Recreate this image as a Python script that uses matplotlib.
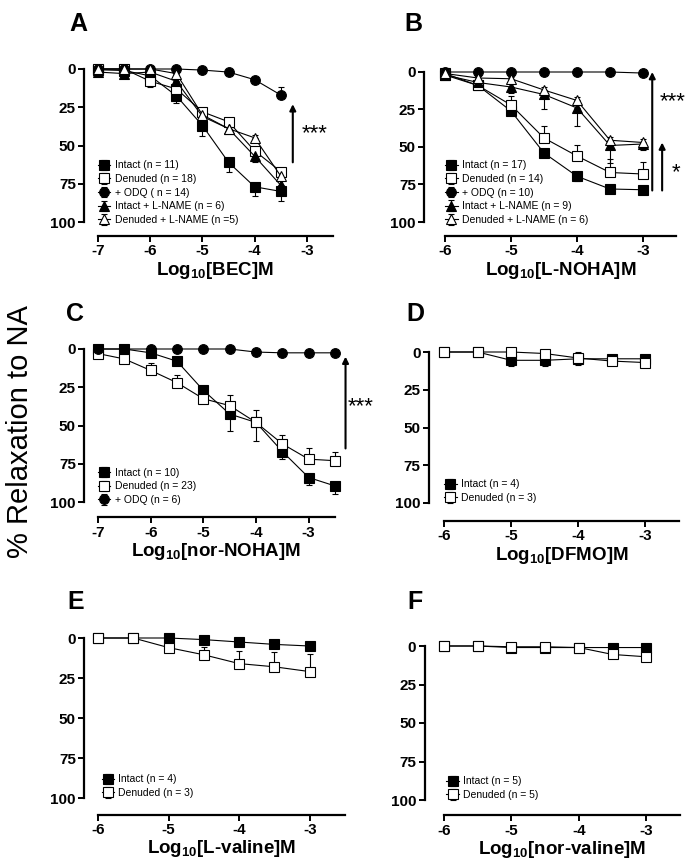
import matplotlib

matplotlib.use("Agg")
import matplotlib.pyplot as plt  # noqa: E402

plt.rcParams["font.family"] = ["Liberation Sans", "DejaVu Sans"]
plt.rcParams["mathtext.fontset"] = "custom"
plt.rcParams["mathtext.bf"] = "Liberation Sans:bold"
plt.rcParams["mathtext.rm"] = "Liberation Sans:bold"
plt.rcParams["mathtext.default"] = "bf"

# ---------------- data (% relaxation) ----------------
# A: BEC
bec_x = [-7, -6.5, -6, -5.5, -5, -4.5, -4, -3.5]
bec_intact = [0.5, 1, 4.5, 17.5, 37, 61, 77, 80]
bec_intact_err = [0, 0, 2, 5, 7, 6, 6, 6]
bec_denuded = [0, 0, 8, 13, 28, 34.5, 53.5, 67]
bec_denuded_err = [0, 0, 4, 3, 3, 3, 4, 4]
bec_odq = [0, 0, 0, 0, 0.7, 2, 7, 17]
bec_odq_err = [0, 0, 0, 0, 0, 0, 1, 5]
bec_lname = [2, 3, 2, 8, 31, 39, 57, 76]
bec_lname_err = [1, 1, 1, 2, 3, 3, 4, 5]
bec_den_lname = [0, 0, 0, 3, 30, 39, 45, 70]
bec_den_lname_err = [0, 0, 0, 1, 2, 2, 2, 3]

# B: L-NOHA
noha_x = [-6, -5.5, -5, -4.5, -4, -3.5, -3]
noha_intact = [2, 9, 26, 54, 69.5, 78, 78.5]
noha_intact_err = [1, 1, 2, 3, 3, 3, 3]
noha_denuded = [1, 9, 22, 44, 56, 67, 68]
noha_denuded_err = [1, 2, 6, 8, 7, 9, 8]
noha_odq = [0, 0, 0, 0, 0, 0, 0.7]
noha_odq_err = [0, 0, 0, 0, 0, 0, 0]
noha_lname = [2, 7, 10, 15, 24, 49, 48]
noha_lname_err = [1, 1, 4, 10, 12, 12, 4]
noha_den_lname = [1, 4, 4.5, 12, 19, 45.5, 47]
noha_den_lname_err = [0, 1, 1, 2, 2, 2, 2]

# C: nor-NOHA
nor_noha_x = [-7, -6.5, -6, -5.5, -5, -4.5, -4, -3.5, -3, -2.5]
nor_noha_intact = [0, 0, 2.5, 8, 27, 42.5, 48, 67, 84, 89.5]
nor_noha_intact_err = [0, 0, 1, 2, 5, 11, 12, 5, 5, 5]
nor_noha_denuded = [3, 6.5, 14, 22, 32.5, 37, 48, 62, 72, 73]
nor_noha_denuded_err = [0, 1, 5, 5, 3, 7, 8, 6, 7, 6]
nor_noha_odq = [0, 0, 0, 0, 0, 0, 2, 2.5, 2.5, 2.5]
nor_noha_odq_err = [0, 0, 0, 0, 0, 0, 0, 0, 0, 0]

# D: DFMO
dfmo_x = [-6, -5.5, -5, -4.5, -4, -3.5, -3]
dfmo_intact = [0, 0, 5.5, 5.5, 4.5, 4.5, 4.5]
dfmo_intact_err = [0, 0, 4, 4, 4, 1, 1]
dfmo_denuded = [0, 0, 0, 1, 4, 6, 7]
dfmo_denuded_err = [0, 0, 0, 0, 4, 1, 1]

# E: L-valine
lval_x = [-6, -5.5, -5, -4.5, -4, -3.5, -3]
lval_intact = [0, 0, 0, 1, 2.5, 4, 5]
lval_intact_err = [0, 0, 0, 1, 1, 1, 1]
lval_denuded = [0, 0, 6, 10.5, 16, 18, 21]
lval_denuded_err = [0, 0, 1, 5, 8, 9, 11]

# F: nor-valine
norval_x = [-6, -5.5, -5, -4.5, -4, -3.5, -3]
norval_intact = [0, 0, 1, 1, 1, 1, 1]
norval_intact_err = [0, 0, 0, 0, 0, 0, 0]
norval_denuded = [0, 0, 0.5, 0.5, 1, 5.5, 7]
norval_denuded_err = [0, 0, 0, 0, 0, 1, 1]

STYLES = {
    "intact": dict(marker="s", mfc="black", ms=7),
    "denuded": dict(marker="s", mfc="white", ms=7),
    "odq": dict(marker="o", mfc="black", ms=7),
    "lname": dict(marker="^", mfc="black", ms=7.5),
    "den_lname": dict(marker="^", mfc="white", ms=7.5),
}


def draw_series(ax, x, y, err, kind, label, down=True):
    zeros = [0] * len(err)
    yerr = [zeros, err] if down else [err, zeros]
    ax.errorbar(x, y, yerr=yerr, color="black", lw=0.8, elinewidth=0.8,
                capsize=2.5, capthick=0.8, mec="black", mew=0.8,
                label=label, clip_on=False, zorder=3, **STYLES[kind])


def style_axes(ax, xlo, xticks, loff, boff, xlabel):
    ax.set_xlim(xlo, -2.5)
    ax.set_ylim(100, 0)
    for s in ("top", "right"):
        ax.spines[s].set_visible(False)
    ax.spines["left"].set_position(("outward", loff))
    ax.spines["bottom"].set_position(("outward", boff))
    ax.spines["left"].set_linewidth(1.6)
    ax.spines["bottom"].set_linewidth(1.6)
    ax.set_yticks([0, 25, 50, 75, 100])
    ax.set_xticks(xticks)
    ax.set_xticklabels([f"{t:d}" for t in xticks])
    ax.tick_params(width=1.4, length=4, labelsize=11, direction="out", pad=2)
    for lab in ax.get_xticklabels() + ax.get_yticklabels():
        lab.set_fontweight("bold")
    ax.set_xlabel(xlabel, fontsize=13.5, fontweight="bold", labelpad=1)
    ax.patch.set_alpha(0)


def legend(ax, anchor):
    ax.legend(loc="lower left", bbox_to_anchor=anchor, frameon=False,
              fontsize=7.5, handlelength=1.2, handletextpad=0.4,
              labelspacing=0.35, borderpad=0, borderaxespad=0)


def arrow(ax, x, tail, head, lw=1.5):
    ax.annotate("", xy=(x, head), xytext=(x, tail), annotation_clip=False,
                arrowprops=dict(arrowstyle="-|>", lw=lw, color="black",
                                mutation_scale=9, shrinkA=0, shrinkB=0))


def stars(ax, x, y, txt):
    ax.text(x, y, txt, fontsize=16, ha="left", va="center", clip_on=False)


fig = plt.figure(figsize=(6.91, 8.64), dpi=100)
W, H = 691.0, 864.0


def add_axes(x0, x1, ytop, ybot):
    return fig.add_axes([x0 / W, 1 - ybot / H, (x1 - x0) / W, (ybot - ytop) / H])


# ---- A
ax = add_axes(98, 333, 69, 222)
draw_series(ax, bec_x, bec_intact, bec_intact_err, "intact", "Intact (n = 11)")
draw_series(ax, bec_x, bec_denuded, bec_denuded_err, "denuded", "Denuded (n = 18)")
draw_series(ax, bec_x, bec_odq, bec_odq_err, "odq", "+ ODQ ( n = 14)", down=False)
draw_series(ax, bec_x, bec_lname, bec_lname_err, "lname", "Intact + L-NAME (n = 6)")
draw_series(ax, bec_x, bec_den_lname, bec_den_lname_err, "den_lname",
            "Denuded + L-NAME (n =5)", down=False)
style_axes(ax, -7, [-7, -6, -5, -4, -3], 10, 10, "Log$_{10}$[BEC]M")
legend(ax, (0.0, -0.02))
arrow(ax, -3.27, 61, 23)
stars(ax, -3.1, 42, "***")

# ---- B
ax = add_axes(445, 676, 72, 222)
draw_series(ax, noha_x, noha_intact, noha_intact_err, "intact", "Intact (n = 17)")
draw_series(ax, noha_x, noha_denuded, noha_denuded_err, "denuded",
            "Denuded (n = 14)", down=False)
draw_series(ax, noha_x, noha_odq, noha_odq_err, "odq", "+ ODQ (n = 10)")
draw_series(ax, noha_x, noha_lname, noha_lname_err, "lname", "Intact + L-NAME (n = 9)")
draw_series(ax, noha_x, noha_den_lname, noha_den_lname_err, "den_lname",
            "Denuded + L-NAME (n = 6)", down=False)
style_axes(ax, -6, [-6, -5, -4, -3], 15, 10, "Log$_{10}$[L-NOHA]M")
legend(ax, (0.0, -0.02))
arrow(ax, -2.86, 79, 0)
arrow(ax, -2.71, 79, 47)
stars(ax, -2.74, 20, "***")
stars(ax, -2.57, 67, "*")

# ---- C
ax = add_axes(98, 335, 349, 502)
draw_series(ax, nor_noha_x, nor_noha_intact, nor_noha_intact_err, "intact",
            "Intact (n = 10)")
draw_series(ax, nor_noha_x, nor_noha_denuded, nor_noha_denuded_err, "denuded",
            "Denuded (n = 23)", down=False)
draw_series(ax, nor_noha_x, nor_noha_odq, nor_noha_odq_err, "odq", "+ ODQ (n = 6)")
style_axes(ax, -7, [-7, -6, -5, -4, -3], 10, 11, "Log$_{10}$[nor-NOHA]M")
legend(ax, (0.0, -0.02))
arrow(ax, -2.3, 65, 5)
stars(ax, -2.25, 38, "***")

# ---- D
ax = add_axes(444, 679, 352, 503)
draw_series(ax, dfmo_x, dfmo_intact, dfmo_intact_err, "intact", "Intact (n = 4)")
draw_series(ax, dfmo_x, dfmo_denuded, dfmo_denuded_err, "denuded",
            "Denuded (n = 3)", down=False)
style_axes(ax, -6, [-6, -5, -4, -3], 11, 13, "Log$_{10}$[DFMO]M")
legend(ax, (0.0, 0.0))

# ---- E
ax = add_axes(98, 345, 638, 798)
draw_series(ax, lval_x, lval_intact, lval_intact_err, "intact", "Intact (n = 4)")
draw_series(ax, lval_x, lval_denuded, lval_denuded_err, "denuded",
            "Denuded (n = 3)", down=False)
style_axes(ax, -6, [-6, -5, -4, -3], 10, 12, "Log$_{10}$[L-valine]M")
legend(ax, (0.015, 0.0))

# ---- F
ax = add_axes(444, 680, 646, 800)
draw_series(ax, norval_x, norval_intact, norval_intact_err, "intact", "Intact (n = 5)")
draw_series(ax, norval_x, norval_denuded, norval_denuded_err, "denuded",
            "Denuded (n = 5)", down=False)
style_axes(ax, -6, [-6, -5, -4, -3], 14, 11, "Log$_{10}$[nor-valine]M")
legend(ax, (0.01, 0.0))

# panel letters and shared y label
for letter, px, py in [("A", 69, 24), ("B", 404, 24), ("C", 66, 314),
                       ("D", 406, 314), ("E", 67, 602), ("F", 407, 602)]:
    fig.text(px / W, 1 - py / H, letter, fontsize=18, fontweight="bold",
             ha="left", va="center")
fig.text(20 / W, 1 - 432 / H, "% Relaxation to NA", fontsize=21,
         rotation=90, ha="center", va="center")

fig.savefig("out.png", dpi=100)
